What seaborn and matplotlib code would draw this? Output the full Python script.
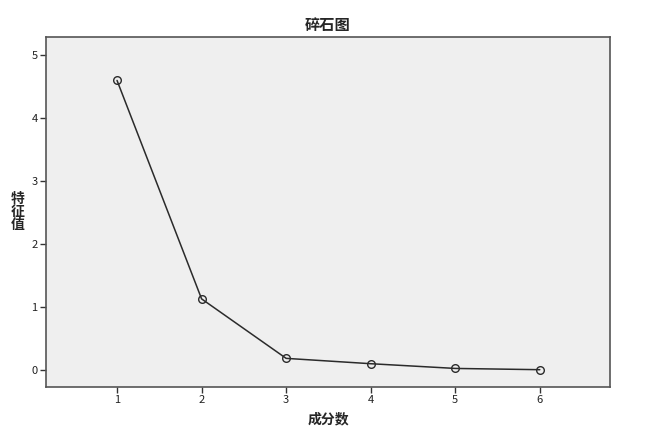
import numpy as np
import pandas as pd
import matplotlib
matplotlib.use("Agg")
import matplotlib.pyplot as plt
import seaborn as sns

# scree plot data
components = [1, 2, 3, 4, 5, 6]
eigenvalues = [4.60, 1.13, 0.185, 0.10, 0.025, 0.005]

sns.set_theme(style="ticks")
plt.rcParams['font.family'] = ['Noto Sans CJK SC', 'DejaVu Sans']

df = pd.DataFrame({'成分数': components, '特征值': eigenvalues})

fig = plt.figure(figsize=(6.54, 4.34), dpi=100)
ax = fig.add_axes([46 / 654, 1 - 387 / 434, 564 / 654, 350 / 434])
ax.set_facecolor('#efefef')

sns.lineplot(data=df, x='成分数', y='特征值', ax=ax, color='#2b2b2b', linewidth=1.1,
             marker='o', markersize=5.5, markerfacecolor='none',
             markeredgecolor='#2b2b2b', markeredgewidth=1.0)

ax.set_xlim(0.16, 6.83)
ax.set_ylim(-0.27, 5.29)
ax.set_xticks(components)
ax.set_yticks([0, 1, 2, 3, 4, 5])
ax.tick_params(axis='both', direction='out', length=4, width=1, color='#333333',
               labelsize=8, labelcolor='#222222', pad=2)

for s in ax.spines.values():
    s.set_color('#555555')
    s.set_linewidth(1.2)

ax.set_title('碎石图', fontsize=11, fontweight='bold', pad=5)
ax.set_xlabel('成分数', fontsize=10, fontweight='bold', labelpad=5)
ax.set_ylabel('特\n征\n值', fontsize=10, fontweight='bold', rotation=0,
              linespacing=0.9, va='center', labelpad=10)

fig.savefig('out.png', dpi=100)
